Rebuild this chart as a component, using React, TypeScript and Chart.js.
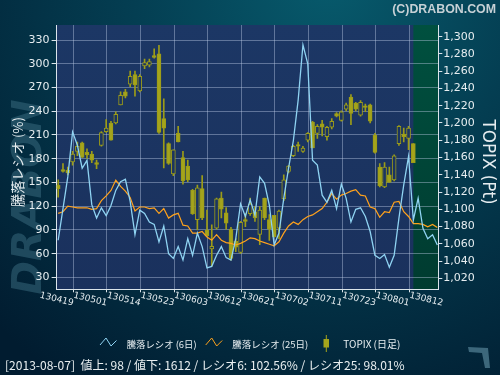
import React, { useEffect, useRef } from 'react';
import { Chart, registerables } from 'chart.js';
Chart.register(...registerables);

const xLabels = ['130419', '130501', '130514', '130523', '130603', '130612', '130621', '130702', '130711', '130723', '130801', '130812'];

const openP = [1128, 1146, 1145, 1155, 1167, 1177, 1166, 1164, 1154, 1174, 1190, 1200, 1200, 1221, 1236, 1245, 1256, 1237, 1266, 1267,
  1278, 1280, 1205, 1176, 1141, 1188, 1160, 1150, 1122, 1088, 1124, 1076, 1054, 1078, 1113, 1096, 1077, 1063, 1050, 1088,
  1095, 1097, 1071, 1113, 1088, 1093, 1078, 1112, 1144, 1162, 1175, 1167, 1180, 1201, 1188, 1199, 1184, 1195, 1211, 1203,
  1216, 1230, 1223, 1209, 1220, 1221, 1186, 1149, 1126, 1140, 1134, 1176, 1187, 1182, 1176];
const highP = [1134, 1153, 1149, 1167, 1178, 1178, 1170, 1167, 1157, 1190, 1204, 1202, 1213, 1236, 1239, 1260, 1260, 1256, 1274, 1274,
  1286, 1290, 1228, 1177, 1169, 1196, 1167, 1157, 1123, 1128, 1139, 1099, 1082, 1113, 1120, 1102, 1079, 1066, 1086, 1095,
  1113, 1103, 1103, 1113, 1094, 1093, 1099, 1140, 1151, 1174, 1178, 1173, 1189, 1202, 1198, 1203, 1196, 1205, 1212, 1214,
  1223, 1233, 1224, 1226, 1222, 1222, 1188, 1153, 1154, 1149, 1163, 1197, 1194, 1196, 1176];
const lowP = [1114, 1143, 1140, 1151, 1162, 1160, 1159, 1154, 1147, 1173, 1189, 1180, 1199, 1221, 1229, 1242, 1231, 1236, 1263, 1265,
  1275, 1188, 1148, 1152, 1139, 1178, 1129, 1132, 1094, 1076, 1088, 1069, 1034, 1077, 1090, 1077, 1041, 1051, 1049, 1080,
  1093, 1086, 1059, 1088, 1064, 1068, 1066, 1110, 1142, 1161, 1167, 1166, 1178, 1171, 1182, 1185, 1180, 1193, 1207, 1202,
  1214, 1198, 1214, 1208, 1213, 1200, 1165, 1126, 1125, 1131, 1133, 1174, 1178, 1169, 1154];
const closeP = [1124, 1144, 1142, 1164, 1173, 1160, 1163, 1157, 1152, 1189, 1194, 1180, 1210, 1232, 1231, 1254, 1244, 1254, 1270, 1271,
  1276, 1189, 1194, 1153, 1169, 1178, 1133, 1134, 1095, 1125, 1090, 1069, 1057, 1112, 1100, 1084, 1043, 1056, 1085, 1086,
  1106, 1090, 1099, 1090, 1077, 1068, 1098, 1134, 1150, 1173, 1173, 1171, 1188, 1171, 1196, 1195, 1195, 1202, 1208, 1213,
  1221, 1211, 1216, 1224, 1218, 1202, 1166, 1127, 1149, 1131, 1162, 1196, 1184, 1194, 1154];

const ratio6 = [77, 117, 157, 214, 197, 168, 178, 122, 105, 118, 108, 121, 140, 151, 154, 126, 84, 115, 111, 100,
  97, 75, 95, 60, 54, 69, 52, 79, 58, 86, 69, 42, 44, 58, 69, 55, 52, 79, 123, 107,
  128, 109, 157, 149, 121, 71, 86, 130, 168, 203, 254, 324, 300, 178, 172, 134, 125, 140, 117, 148,
  130, 100, 116, 118, 107, 88, 58, 54, 59, 43, 58, 105, 147, 183, 102.56, 130, 92, 79, 84, 71];
const ratio25 = [111, 113, 120, 119, 118, 118, 118, 116, 117, 127, 133, 140, 153, 145, 139, 131, 114, 119, 119, 117,
  118, 111, 117, 105, 109, 111, 96, 95, 86, 86, 88, 81, 77, 84, 77, 74, 73, 71, 73, 76,
  80, 79, 76, 74, 72, 70, 75, 86, 95, 100, 97, 103, 107, 109, 113, 117, 125, 136, 129, 134,
  136, 139, 141, 134, 133, 119, 117, 106, 113, 112, 125, 126, 113, 107, 98.01, 98, 97, 94, 97, 93];

const leftTicks = [30, 60, 90, 120, 150, 180, 210, 240, 270, 300, 330];
const rightTicks = [1020, 1040, 1060, 1080, 1100, 1120, 1140, 1160, 1180, 1200, 1220, 1240, 1260, 1280, 1300];

const legendLabels = ['騰落レシオ (6日)', '騰落レシオ (25日)', 'TOPIX (日足)'];
const leftTitle = '騰落レシオ (%)';
const rightTitle = 'TOPIX (Pt)';
const copyright = '(C)DRABON.COM';
const footer = '[2013-08-07]  値上: 98 / 値下: 1612 / レシオ6: 102.56% / レシオ25: 98.01%';

const NAVY = '#1b3461';
const OLIVE = '#a4a41c';
const OLIVE_B = '#9c9c18';
const GRID = 'rgba(190,205,230,0.42)';
const AX = '#dbe4ea';
const TXT = '#e6edf0';
const BLUE = '#8fd3f2';
const ORANGE = '#ffa21c';
const X_SHIFT = 0.33;

function fitText(ctx: CanvasRenderingContext2D, text: string, x: number, y: number, targetW: number, base: number, family: string, weight = '') {
  ctx.font = `${weight} ${base}px ${family}`;
  const w = ctx.measureText(text).width;
  let s = base * targetW / w;
  s = Math.max(base * 0.75, Math.min(base * 1.3, s));
  ctx.font = `${weight} ${s}px ${family}`;
  ctx.fillText(text, x, y);
}

export default function App() {
  const ref = useRef<HTMLCanvasElement>(null);
  useEffect(() => {
    document.body.style.margin = '0';
    const canvas = ref.current!;
    const wickData = highP.map((h, i) => ({ x: i, y: [lowP[i], h] }));
    const bodyData = openP.map((o, i) => ({ x: i, y: [Math.min(o, closeP[i]), Math.max(o, closeP[i])] }));
    const up = openP.map((o, i) => closeP[i] >= o);

    const bgPlugin = {
      id: 'bg',
      beforeDraw(chart: any) {
        const { ctx, chartArea: a, scales } = chart;
        ctx.save();
        const g = ctx.createRadialGradient(330, -20, 10, 330, -20, 480);
        g.addColorStop(0, '#07596b');
        g.addColorStop(0.4, '#043e52');
        g.addColorStop(1, '#011c30');
        ctx.fillStyle = g;
        ctx.fillRect(0, 0, 500, 375);
        // watermark
        ctx.save();
        ctx.translate(31, 197);
        ctx.rotate(-Math.PI / 2);
        ctx.textAlign = 'center';
        ctx.textBaseline = 'middle';
        ctx.fillStyle = 'rgba(60,110,130,0.5)';
        fitText(ctx, 'DRABON', 0, 0, 195, 40, "'DejaVu Sans'", 'italic bold');
        ctx.restore();
        // plot area
        const ng = ctx.createLinearGradient(0, a.top, 0, a.bottom);
        ng.addColorStop(0, '#1c3765');
        ng.addColorStop(1, '#1a315d');
        ctx.fillStyle = ng;
        ctx.fillRect(a.left, a.top, a.right - a.left, a.bottom - a.top);
        const gx = scales.x.getPixelForValue(closeP.length - 1);
        const gg = ctx.createLinearGradient(0, a.top, 0, a.bottom);
        gg.addColorStop(0, '#00503f');
        gg.addColorStop(1, '#003b30');
        ctx.fillStyle = gg;
        ctx.fillRect(gx, a.top, a.right - gx, a.bottom - a.top);
        ctx.restore();
      },
    };

    const overlayPlugin = {
      id: 'overlay',
      afterDraw(chart: any) {
        const { ctx, scales, chartArea: a } = chart;
        ctx.save();
        ctx.fillStyle = TXT;
        // x labels
        ctx.textAlign = 'center';
        ctx.textBaseline = 'middle';
        ctx.font = "9px 'DejaVu Sans'";
        xLabels.forEach((lab, k) => {
          const x = scales.x.getPixelForValue(7 * k - X_SHIFT);
          ctx.save();
          ctx.translate(x, a.bottom + 10);
          ctx.rotate(14 * Math.PI / 180);
          ctx.fillText(lab, 0, 0);
          ctx.restore();
        });
        // left title
        ctx.save();
        ctx.translate(18, 162);
        ctx.rotate(-Math.PI / 2);
        ctx.textAlign = 'center';
        ctx.textBaseline = 'middle';
        fitText(ctx, leftTitle, 0, 0, 90, 13, "'Noto Sans CJK JP'");
        ctx.restore();
        // right title
        ctx.save();
        ctx.translate(487, 162);
        ctx.rotate(Math.PI / 2);
        ctx.textAlign = 'center';
        ctx.textBaseline = 'middle';
        fitText(ctx, rightTitle, 0, 0, 85, 15, "'DejaVu Sans'");
        ctx.restore();
        // copyright
        ctx.textAlign = 'right';
        ctx.textBaseline = 'alphabetic';
        ctx.fillStyle = '#c6d0d5';
        fitText(ctx, copyright, 496, 12.5, 104, 12.5, "'Liberation Sans'", 'bold');
        // legend
        ctx.fillStyle = TXT;
        ctx.textAlign = 'left';
        ctx.textBaseline = 'middle';
        const zig = (x0: number, color: string) => {
          ctx.strokeStyle = color;
          ctx.lineWidth = 1;
          ctx.beginPath();
          ctx.moveTo(x0, 345);
          ctx.lineTo(x0 + 6, 338);
          ctx.lineTo(x0 + 11, 346);
          ctx.lineTo(x0 + 16.5, 340.5);
          ctx.stroke();
        };
        zig(100, BLUE);
        fitText(ctx, legendLabels[0], 126.7, 344, 70, 10, "'Noto Sans CJK JP'");
        zig(205.7, ORANGE);
        fitText(ctx, legendLabels[1], 232.3, 344, 76, 10, "'Noto Sans CJK JP'");
        ctx.fillStyle = OLIVE;
        ctx.fillRect(325.8, 335, 1, 17);
        ctx.fillRect(323.5, 339, 5.5, 8.5);
        ctx.fillStyle = TXT;
        fitText(ctx, legendLabels[2], 343.3, 344, 57, 10, "'Noto Sans CJK JP'");
        // footer
        ctx.fillStyle = '#e8eef0';
        fitText(ctx, footer, 5, 365.5, 400, 13, "'Noto Sans CJK JP'");
        // small icon
        ctx.fillStyle = 'rgba(70,115,135,0.85)';
        ctx.beginPath();
        ctx.moveTo(468, 347);
        ctx.lineTo(488, 348);
        ctx.lineTo(490, 368);
        ctx.lineTo(485, 368);
        ctx.lineTo(482, 353);
        ctx.lineTo(469, 352);
        ctx.closePath();
        ctx.fill();
        ctx.restore();
      },
    };

    const chart = new Chart(canvas, {
      type: 'line',
      data: {
        datasets: [
          {
            type: 'line', label: legendLabels[0], data: ratio6.map((v, i) => ({ x: i, y: v })), yAxisID: 'y',
            borderColor: BLUE, borderWidth: 1.3, pointRadius: 0, tension: 0, fill: false, order: 0,
          } as any,
          {
            type: 'line', label: legendLabels[1], data: ratio25.map((v, i) => ({ x: i, y: v })), yAxisID: 'y',
            borderColor: ORANGE, borderWidth: 1.2, pointRadius: 0, tension: 0, fill: false, order: 1,
          },
          {
            type: 'bar', label: legendLabels[2], data: bodyData, yAxisID: 'y2',
            backgroundColor: up.map((u) => (u ? NAVY : OLIVE)), borderColor: OLIVE_B, borderWidth: 1,
            borderSkipped: false, barThickness: 4, grouped: false, order: 2,
          },
          {
            type: 'bar', label: 'wick', data: wickData, yAxisID: 'y2',
            backgroundColor: OLIVE_B, borderWidth: 0, barThickness: 1, grouped: false, order: 3,
          },
        ],
      },
      options: {
        responsive: false,
        maintainAspectRatio: false,
        devicePixelRatio: 1,
        animation: false,
        layout: { padding: { left: 0, right: 0, top: 25, bottom: 85.7 } },
        plugins: { legend: { display: false }, tooltip: { enabled: false }, title: { display: false } },
        scales: {
          x: {
            type: 'linear', min: -X_SHIFT, max: 79.2, offset: false,
            afterBuildTicks: (s: any) => { s.ticks = xLabels.map((_, k) => ({ value: 7 * k - X_SHIFT })); },
            ticks: { display: false },
            grid: { color: GRID, tickColor: AX, tickLength: 3, drawTicks: true },
            border: { color: AX },
            afterFit: (s: any) => { s.height = 0; },
          },
          y: {
            position: 'left', min: 15, max: 349,
            afterBuildTicks: (s: any) => { s.ticks = leftTicks.map((v) => ({ value: v })); },
            ticks: { color: TXT, font: { family: 'DejaVu Sans', size: 11 }, padding: 2 },
            grid: { color: GRID, tickColor: AX, tickLength: 5 },
            border: { color: AX },
            afterFit: (s: any) => { s.width = 56.6; },
          },
          y2: {
            position: 'right', min: 1007.3, max: 1313.5,
            afterBuildTicks: (s: any) => { s.ticks = rightTicks.map((v) => ({ value: v })); },
            ticks: {
              color: TXT, font: { family: 'DejaVu Sans', size: 11 }, padding: 1,
              callback: (v: any) => Number(v).toLocaleString('en-US'),
            },
            grid: { drawOnChartArea: false, color: AX, tickColor: AX, tickLength: 4 },
            border: { color: AX },
            afterFit: (s: any) => { s.width = 61.7; },
          },
        },
      } as any,
      plugins: [bgPlugin, overlayPlugin],
    });
    return () => chart.destroy();
  }, []);
  return <canvas ref={ref} width={500} height={375} style={{ display: 'block', width: 500, height: 375 }} />;
}
